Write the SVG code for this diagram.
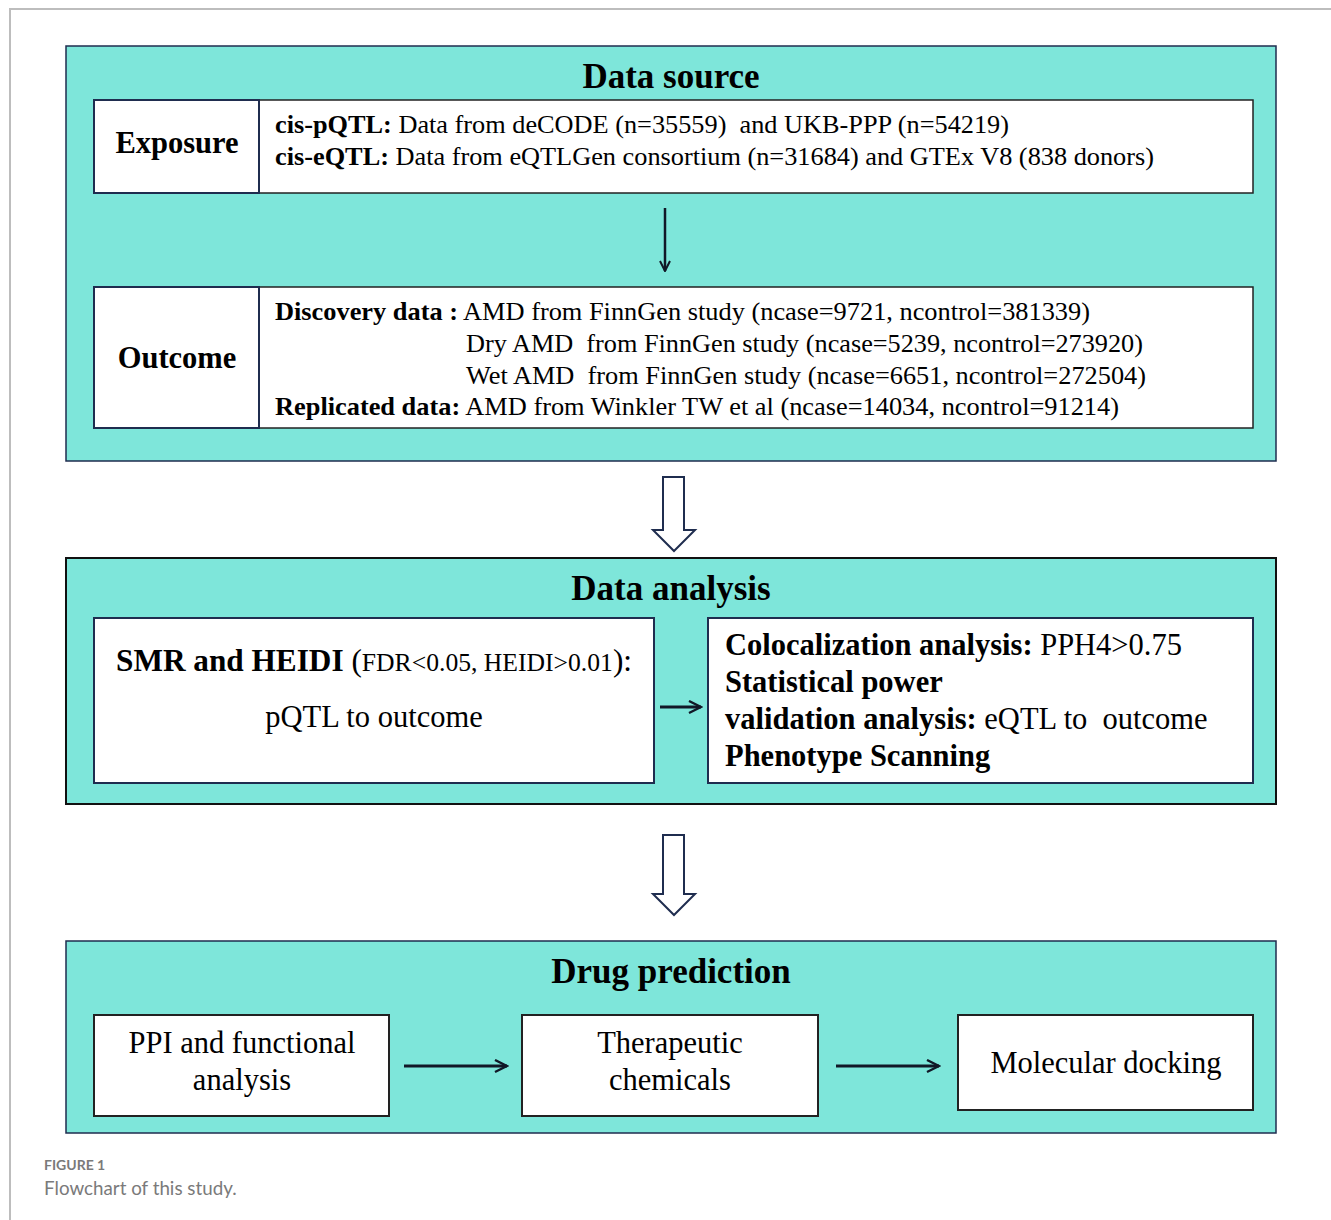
<svg xmlns="http://www.w3.org/2000/svg" width="1331" height="1220" viewBox="0 0 1331 1220">
<defs>
<style>
.page{fill:none;stroke:#bdbdbd;stroke-width:2}
.panel{fill:#7ee6da;stroke:#1f2d4f;stroke-width:1.5}
.box{fill:#fff;stroke:#1f2d4f;stroke-width:2}
.tbox{fill:#fff;stroke:#222;stroke-width:1.5}
.t{font-family:"Liberation Serif","Times New Roman",serif;fill:#000}
.title{font-size:35px;font-weight:bold;text-anchor:middle}
.lbl{font-size:30.5px;font-weight:bold;text-anchor:middle}
.body{font-size:26px}
.body28{font-size:30.5px}
.mid{text-anchor:middle}
.b{font-weight:bold}
.conn{stroke:#111827;stroke-width:3;fill:none}
.hollow{fill:#fff;stroke:#1f2d4f;stroke-width:2}
.cap{font-family:"Lato","Open Sans",sans-serif;fill:#7a7a7a}
</style>
<marker id="ah" viewBox="0 0 10 10" refX="9" refY="5" markerWidth="5" markerHeight="5" orient="auto" markerUnits="strokeWidth">
<path d="M1,1 L9,5 L1,9" fill="none" stroke="#111827" stroke-width="1.6"/>
</marker>
</defs>
<path class="page" d="M10,1220 L10,9 L1331,9"/>

<g id="panel-data-source">
<rect class="panel" x="66" y="46" width="1210" height="415"/>
<text class="t title" x="671" y="88">Data source</text>
</g>
<g id="exposure">
<rect class="tbox" x="259" y="100" width="994" height="93"/>
<rect class="box" x="94" y="100" width="165" height="93"/>
<text class="t lbl" x="177" y="153">Exposure</text>
<text class="t body" x="275" y="133" textLength="734" lengthAdjust="spacingAndGlyphs"><tspan class="b">cis-pQTL:</tspan> Data from deCODE (n=35559)&#160; and UKB-PPP (n=54219)</text>
<text class="t body" x="275" y="165" textLength="879" lengthAdjust="spacingAndGlyphs"><tspan class="b">cis-eQTL:</tspan> Data from eQTLGen consortium (n=31684) and GTEx V8 (838 donors)</text>
</g>
<g id="outcome">
<rect class="tbox" x="259" y="287" width="994" height="141"/>
<rect class="box" x="94" y="287" width="165" height="141"/>
<text class="t lbl" x="177" y="368">Outcome</text>
<text class="t body" x="275" y="320" textLength="815" lengthAdjust="spacingAndGlyphs"><tspan class="b">Discovery data :</tspan> AMD from FinnGen study (ncase=9721, ncontrol=381339)</text>
<text class="t body" x="466" y="352" textLength="677" lengthAdjust="spacingAndGlyphs">Dry AMD&#160; from FinnGen study (ncase=5239, ncontrol=273920)</text>
<text class="t body" x="466" y="384" textLength="680" lengthAdjust="spacingAndGlyphs">Wet AMD&#160; from FinnGen study (ncase=6651, ncontrol=272504)</text>
<text class="t body" x="275" y="415" textLength="844" lengthAdjust="spacingAndGlyphs"><tspan class="b">Replicated data:</tspan> AMD from Winkler TW et al (ncase=14034, ncontrol=91214)</text>
</g>

<g id="panel-data-analysis">
<rect class="panel" x="66" y="558" width="1210" height="246" style="stroke:#111;stroke-width:2"/>
<text class="t title" x="671" y="600">Data analysis</text>
</g>
<g id="smr">
<rect class="box" x="94" y="618" width="560" height="165"/>
<text class="t body28" x="116" y="671" textLength="516" lengthAdjust="spacingAndGlyphs"><tspan class="b">SMR and HEIDI</tspan> (<tspan font-size="25">FDR&lt;0.05, HEIDI&gt;0.01</tspan>):</text>
<text class="t body28 mid" x="374" y="727">pQTL to outcome</text>
</g>
<g id="coloc">
<rect class="box" x="708" y="618" width="545" height="165"/>
<text class="t body28" x="725" y="655"><tspan class="b">Colocalization analysis:</tspan> PPH4&gt;0.75</text>
<text class="t body28 b" x="725" y="692">Statistical power</text>
<text class="t body28" x="725" y="729"><tspan class="b">validation analysis:</tspan> eQTL to&#160; outcome</text>
<text class="t body28 b" x="725" y="766">Phenotype Scanning</text>
</g>

<g id="panel-drug-prediction">
<rect class="panel" x="66" y="941" width="1210" height="192"/>
<text class="t title" x="671" y="983">Drug prediction</text>
</g>
<g id="ppi">
<rect class="box" x="94" y="1015" width="295" height="101" style="stroke:#222"/>
<text class="t body28 mid" x="242" y="1053">PPI and functional</text>
<text class="t body28 mid" x="242" y="1090">analysis</text>
</g>
<g id="therapeutic">
<rect class="box" x="522" y="1015" width="296" height="101" style="stroke:#222"/>
<text class="t body28 mid" x="670" y="1053">Therapeutic</text>
<text class="t body28 mid" x="670" y="1090">chemicals</text>
</g>
<g id="docking">
<rect class="box" x="958" y="1015" width="295" height="95" style="stroke:#222"/>
<text class="t body28 mid" x="1106" y="1073">Molecular docking</text>
</g>

<g id="connectors">
<line class="conn" x1="665" y1="208" x2="665" y2="271" marker-end="url(#ah)" style="stroke-width:2.5"/>
<path class="hollow" d="M663,477 L684,477 L684,530 L695,530 L674,551 L653,530 L663,530 Z"/>
<line class="conn" x1="660" y1="707" x2="701" y2="707" marker-end="url(#ah)"/>
<path class="hollow" d="M663,835 L684,835 L684,894 L695,894 L674,915 L653,894 L663,894 Z"/>
<line class="conn" x1="404" y1="1066" x2="507" y2="1066" marker-end="url(#ah)"/>
<line class="conn" x1="836" y1="1066" x2="939" y2="1066" marker-end="url(#ah)"/>
</g>

<text class="cap" x="44" y="1170" font-size="14" font-weight="bold">FIGURE 1</text>
<text class="cap" x="44" y="1195" font-size="18.8">Flowchart of this study.</text>
</svg>
